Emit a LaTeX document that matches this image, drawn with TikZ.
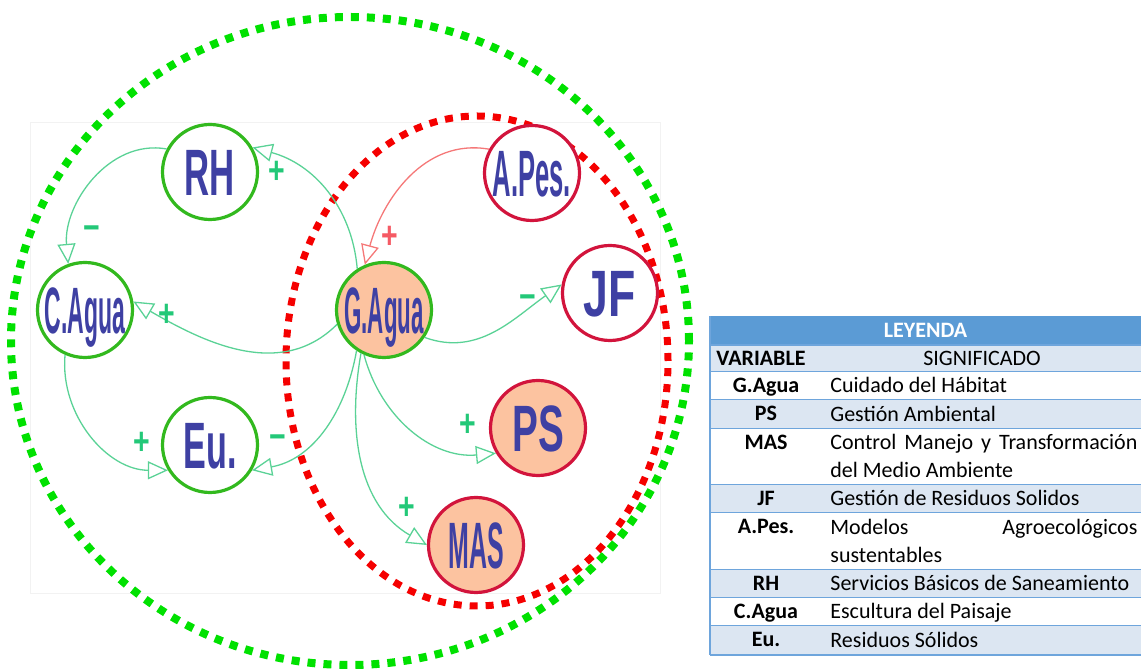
\documentclass[tikz,border=0pt]{standalone}
\usepackage{fontspec}
\usepackage{graphicx}
\usetikzlibrary{arrows.meta}
\newfontfamily\nodefont{Liberation Sans}
\newfontfamily\legfont{Carlito}
\definecolor{VarText}{RGB}{62, 64, 163}
\definecolor{VarGreen}{RGB}{50, 185, 30}
\definecolor{VarRed}{RGB}{210, 20, 60}
\definecolor{VarPeach}{RGB}{252, 195, 160}
\definecolor{LinkGreen}{RGB}{90, 210, 150}
\definecolor{LinkRed}{RGB}{245, 120, 120}
\definecolor{SignGreen}{RGB}{35, 200, 120}
\definecolor{SignRed}{RGB}{245, 90, 100}
\definecolor{RingGreen}{RGB}{0, 225, 0}
\definecolor{RingRed}{RGB}{245, 0, 0}
\definecolor{LegBlue}{RGB}{91, 155, 213}
\definecolor{LegRow}{RGB}{220, 230, 242}
\definecolor{LegLine}{RGB}{110, 165, 220}

\begin{document}
\begin{tikzpicture}[x=0.5pt, y=0.5pt,
  varnode/.style={circle, minimum size=47.5pt, inner sep=0pt, line width=1.6pt,
    text=VarText, text height=23.5pt, text depth=0pt,
    font=\nodefont\bfseries\fontsize{32.8}{33}\selectfont},
  vgreen/.style={varnode, draw=VarGreen, fill=white},
  vred/.style={varnode, draw=VarRed, fill=white},
  hot/.style={fill=VarPeach},
  link/.style={draw=LinkGreen, line width=0.65pt, -{Triangle[open, length=10pt, width=9pt]}},
  rlink/.style={link, draw=LinkRed},
  sgn/.style={text=SignGreen, inner sep=0pt, font=\nodefont\bfseries\fontsize{19}{19}\selectfont},
  rsgn/.style={sgn, text=SignRed},
  ring/.style={line width=4pt, dash pattern=on 4pt off 4pt},
  legvar/.style={inner sep=0pt, anchor=base, font=\legfont\bfseries\fontsize{11}{14}\selectfont},
  legtxt/.style={inner sep=0pt, anchor=base west, align=left, font=\legfont\fontsize{11}{14}\selectfont},
  legline/.style={draw=LegLine, line width=1pt}]
  \useasboundingbox (0,0) rectangle (1141,669);

  % faint frame and the two groups
  \draw[black!5] (30,76) rectangle (660,547);
  \draw[ring, RingGreen] (350,328) ellipse [x radius=339, y radius=324];
  \draw[ring, RingRed, line width=3.5pt] (477,308) ellipse [x radius=191, y radius=245];

  % variables
  \node[vgreen] (rh) at (210,497) {\scalebox{0.53}[1]{RH}};
  \node[vgreen] (cagua) at (85,359) {\scalebox{0.35}[1]{C.Agua}};
  \node[vgreen, hot] (gagua) at (384,359) {\scalebox{0.34}[1]{G.Agua}};
  \node[vgreen] (eu) at (210,224) {\scalebox{0.52}[1]{Eu.}};
  \node[vred] (apes) at (532,496) {\scalebox{0.39}[1]{A.Pes.}};
  \node[vred] (jf) at (610,376) {\scalebox{0.68}[1]{JF}};
  \node[vred, hot] (ps) at (538,241) {\scalebox{0.59}[1]{PS}};
  \node[vred, hot] (mas) at (476,124) {\scalebox{0.38}[1]{MAS}};

  % influences
  \draw[link] (gagua.123) to[out=95, in=-15] (rh.30);
  \draw[link] (rh.152) to[out=170, in=95] (cagua.110);
  \draw[link] (gagua.197) to[out=225, in=-30] (cagua.10);
  \draw[link] (cagua.246) to[out=265, in=180] (eu.211);
  \draw[link] (gagua.236) to[out=260, in=10] (eu.-31);
  \draw[link] (gagua.-34) to[out=-20, in=215] (jf.170);
  \draw[link] (gagua.246) to[out=285, in=185] (ps.211);
  \draw[link] (gagua.242) to[out=260, in=150] (mas.180);
  \draw[rlink] (apes.151) to[out=170, in=75] (gagua.113);

  \node[sgn] (s-rh) at (277,497) {\scalebox{0.75}[1]{+}};
  \node[sgn] (s-cagua1) at (92,436) {\scalebox{0.75}[1]{−}};
  \node[sgn] (s-cagua2) at (167,354) {\scalebox{0.75}[1]{+}};
  \node[sgn] (s-eu1) at (142,226) {\scalebox{0.75}[1]{+}};
  \node[sgn] (s-eu2) at (278,227) {\scalebox{0.75}[1]{−}};
  \node[sgn] (s-jf) at (528,367) {\scalebox{0.75}[1]{−}};
  \node[sgn] (s-ps) at (468,244) {\scalebox{0.75}[1]{+}};
  \node[sgn] (s-mas) at (407,161) {\scalebox{0.75}[1]{+}};
  \node[rsgn] (s-gagua) at (390,432) {\scalebox{0.75}[1]{+}};

  % legend
  \fill[LegBlue] (710,324) rectangle (1141,353);
  \node[legvar, text=white] (leyenda) at (925.5,331.5) {LEYENDA};
  \fill[LegRow] (710,297) rectangle (1141,324);
  \draw[legline] (710,324) -- (1141,324);
  \node[legvar] (varhead) at (761,303.5) {VARIABLE};
  \node[legtxt, anchor=base] (sighead) at (982,303.5) {SIGNIFICADO};
  \draw[legline] (710,297) -- (1141,297);
  \foreach \ya/\yb/\fc/\var/\txt [count=\i] in {
    297/269/white/G.Agua/Cuidado del Hábitat,
    269/240/LegRow/PS/Gestión Ambiental,
    240/184/white/MAS/{\makebox[153.5pt][s]{Control Manejo y Transformación}\\del Medio Ambiente},
    184/156/LegRow/JF/Gestión de Residuos Solidos,
    156/99/white/A.Pes./{\makebox[153.5pt][s]{Modelos Agroecológicos}\\sustentables},
    99/71/LegRow/RH/Servicios Básicos de Saneamiento,
    71/43/white/C.Agua/Escultura del Paisaje,
    43/14/LegRow/Eu./Residuos Sólidos}{
    \fill[\fc] (710,\yb) rectangle (1141,\ya);
    \draw[legline] (710,\yb) -- (1141,\yb);
    \node[legvar] (v\i) at (766,{\ya-21}) {\var};
    \node[legtxt] (t\i) at (830,{\yb+7}) {\txt};
  }
  \draw[legline] (710,14) -- (710,353);
\end{tikzpicture}
\end{document}
